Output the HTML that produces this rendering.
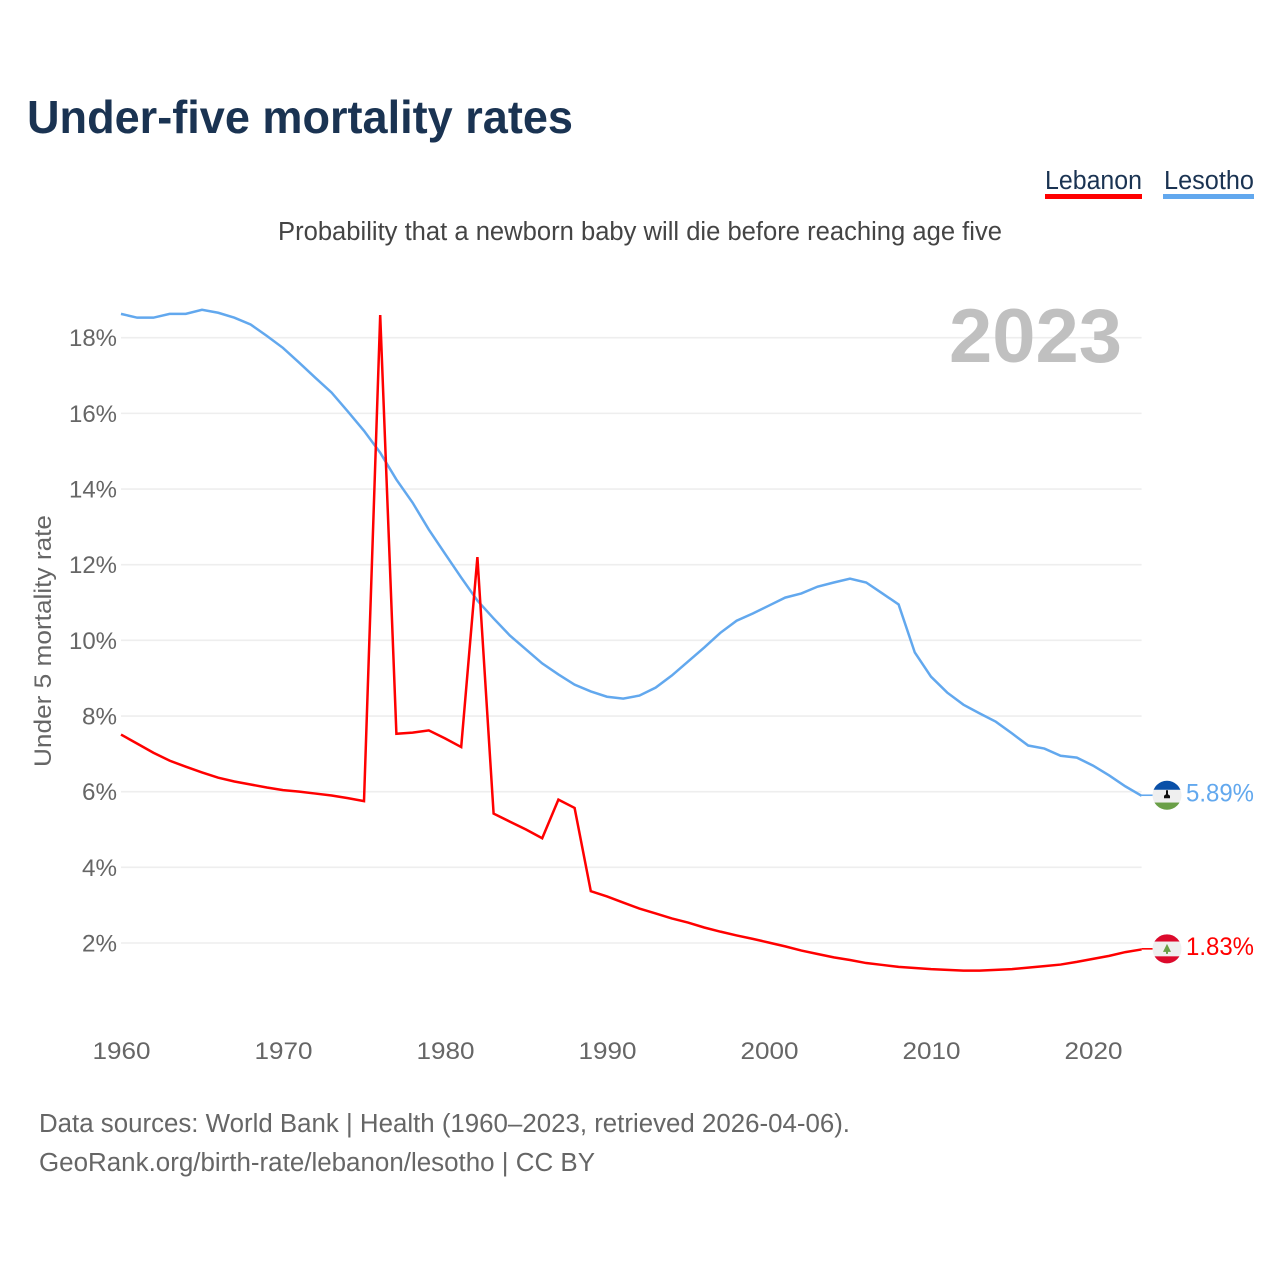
<!DOCTYPE html>
<html lang="en">
<head>
<meta charset="utf-8">
<title>Under-five mortality rates</title>
<style>
html,body{margin:0;padding:0;background:#fff;}
svg{display:block;}
text{font-family:"Liberation Sans",Arial,sans-serif;}
</style>
</head>
<body>
<svg id="chart" xmlns="http://www.w3.org/2000/svg" width="1280" height="1280" viewBox="0 0 1280 1280">
  <rect x="0" y="0" width="1280" height="1280" fill="#ffffff"/>
  <text x="27" y="133" font-size="46" font-weight="700" fill="#1a3352" textLength="546" lengthAdjust="spacingAndGlyphs">Under-five mortality rates</text>
  <text x="278" y="240" font-size="25.5" fill="#444444" textLength="724" lengthAdjust="spacingAndGlyphs">Probability that a newborn baby will die before reaching age five</text>

  <g>
    <text x="1045" y="189" font-size="25.5" fill="#1a3352" textLength="97" lengthAdjust="spacingAndGlyphs">Lebanon</text>
    <rect x="1045" y="194" width="97" height="5" fill="#ff0000"/>
  </g>
  <g>
    <text x="1164" y="189" font-size="25.5" fill="#1a3352" textLength="90" lengthAdjust="spacingAndGlyphs">Lesotho</text>
    <rect x="1163" y="194" width="91" height="5" fill="#62a8ee"/>
  </g>

  <g id="grid"></g>
  <g id="yticks"></g>
  <g id="xticks"></g>

  <text x="949" y="362" font-size="76" font-weight="700" fill="#c0c0c0" textLength="173" lengthAdjust="spacingAndGlyphs">2023</text>
  <text transform="translate(51,767) rotate(-90)" x="0" y="0" font-size="24.5" fill="#666666" textLength="252" lengthAdjust="spacingAndGlyphs">Under 5 mortality rate</text>

  <g id="series"></g>
  <g id="ends"></g>

  <text x="39" y="1132" font-size="25.5" fill="#666666" textLength="811" lengthAdjust="spacingAndGlyphs">Data sources: World Bank | Health (1960–2023, retrieved 2026-04-06).</text>
  <text x="39" y="1171" font-size="25.5" fill="#666666" textLength="556" lengthAdjust="spacingAndGlyphs">GeoRank.org/birth-rate/lebanon/lesotho | CC BY</text>
</svg>
<script>
const startYear = 1960;
const endYear = 2023;
const yTickValues = [2, 4, 6, 8, 10, 12, 14, 16, 18];
const xTickYears = [1960, 1970, 1980, 1990, 2000, 2010, 2020];
const lesothoValues = [
  18.63, 18.53, 18.53, 18.63, 18.63, 18.74, 18.66, 18.53, 18.35, 18.05,
  17.73, 17.34, 16.94, 16.55, 16.05, 15.54, 14.96, 14.25, 13.64, 12.93,
  12.29, 11.66, 11.05, 10.58, 10.13, 9.76, 9.39, 9.10, 8.83, 8.65,
  8.51, 8.46, 8.54, 8.75, 9.07, 9.44, 9.81, 10.20, 10.52, 10.71,
  10.92, 11.13, 11.24, 11.42, 11.53, 11.63, 11.53, 11.24, 10.95, 9.68,
  9.04, 8.62, 8.30, 8.07, 7.85, 7.54, 7.22, 7.14, 6.95, 6.90,
  6.69, 6.43, 6.14, 5.89
];
const lebanonValues = [
  7.51, 7.27, 7.03, 6.82, 6.66, 6.51, 6.37, 6.27, 6.19, 6.11,
  6.04, 6.00, 5.95, 5.90, 5.83, 5.75, 18.60, 7.53, 7.56, 7.62,
  7.41, 7.18, 12.20, 5.42, 5.21, 5.00, 4.77, 5.79, 5.57, 3.37,
  3.23, 3.07, 2.91, 2.78, 2.65, 2.54, 2.41, 2.30, 2.20, 2.11,
  2.01, 1.91, 1.80, 1.71, 1.62, 1.55, 1.47, 1.42, 1.37, 1.34,
  1.31, 1.29, 1.27, 1.27, 1.29, 1.31, 1.35, 1.39, 1.43, 1.50,
  1.58, 1.66, 1.76, 1.83
];

const NS = 'http://www.w3.org/2000/svg';
const plotLeft = 121, plotRight = 1141.6;
function xScale(year) {
  return plotLeft + (year - startYear) * (plotRight - plotLeft) / (endYear - startYear);
}
function yScale(v) {
  return 943 - (v - 2) * 37.83;
}
function make(tag, attrs, parent) {
  const el = document.createElementNS(NS, tag);
  for (const k in attrs) el.setAttribute(k, attrs[k]);
  parent.appendChild(el);
  return el;
}
const gridG = document.getElementById('grid');
const yG = document.getElementById('yticks');
const xG = document.getElementById('xticks');
const seriesG = document.getElementById('series');
const endsG = document.getElementById('ends');

yTickValues.forEach(function (v) {
  const line = make('line', {x1: plotLeft, x2: plotRight, y1: yScale(v), y2: yScale(v), stroke: '#eeeeee', 'stroke-width': 1.6}, gridG);
  
  
  const label = make('text', {x: 117, y: yScale(v) + 8.5, 'text-anchor': 'end', 'font-size': 24, fill: '#666666', textLength: v >= 10 ? 48 : 35, lengthAdjust: 'spacingAndGlyphs'}, yG);
  
  
  label.textContent = v + '%';
});

xTickYears.forEach(function (yr) {
  const label = make('text', {x: xScale(yr) + 0.5, y: 1059, 'text-anchor': 'middle', 'font-size': 24, fill: '#666666', textLength: 58, lengthAdjust: 'spacingAndGlyphs'}, xG);
  
  
  label.textContent = yr;
});

function drawLine(values, color) {
  const pts = values.map(function (v, i) {
    return xScale(startYear + i).toFixed(2) + ',' + yScale(v).toFixed(2);
  }).join(' ');
  return make('polyline', {points: pts, fill: 'none', stroke: color, 'stroke-width': 2.5, 'stroke-linejoin': 'miter', 'stroke-miterlimit': 4}, seriesG);
}
const lineLesotho = drawLine(lesothoValues, '#62a8ee');


const lineLebanon = drawLine(lebanonValues, '#ff0000');



const defs = make('defs', {}, endsG);
const clip = make('clipPath', {id: 'flag-clip'}, defs);
make('circle', {cx: 0, cy: 0, r: 14.5}, clip);

function drawEnd(values, color, bands) {
  const y = yScale(values[values.length - 1]);
  const tail = make('line', {x1: plotRight, x2: 1153, y1: y - 0.6, y2: y - 0.6, stroke: color, 'stroke-width': 1.6}, endsG);
  const g = make('g', {transform: 'translate(1167,' + (y - 0.6).toFixed(2) + ')'}, endsG);
  const inner = make('g', {'clip-path': 'url(#flag-clip)'}, g);
  bands.forEach(function (b) {
    make('rect', {x: -15, y: b[0], width: 30, height: b[1], fill: b[2]}, inner);
  });
  const text = make('text', {x: 1254, y: y + 5.5, 'text-anchor': 'end', 'font-size': 25, fill: color, textLength: 68, lengthAdjust: 'spacingAndGlyphs'}, endsG);
  text.textContent = values[values.length - 1].toFixed(2) + '%';
  return {tail: tail, flag: g, inner: inner, text: text};
}

const endLesotho = drawEnd(lesothoValues, '#62a8ee', [[-15, 30, '#efefef'], [-15, 9.5, '#0a50a8'], [7.3, 8, '#6a9f47']]);






make('path', {d: 'M-1,-5 h2 v4 l2,1.5 v2.5 h-6 v-2.5 l2,-1.5 z', fill: '#111111'}, endLesotho.inner);

const endLebanon = drawEnd(lebanonValues, '#ff0000', [[-15, 30, '#efefef'], [-15, 7.7, '#dc0a2c'], [7.5, 8, '#dc0a2c']]);






make('path', {d: 'M0,-5 L4,3 H1 V5 H-1 V3 H-4 Z', fill: '#6a9f47'}, endLebanon.inner);
</script>
</body>
</html>
